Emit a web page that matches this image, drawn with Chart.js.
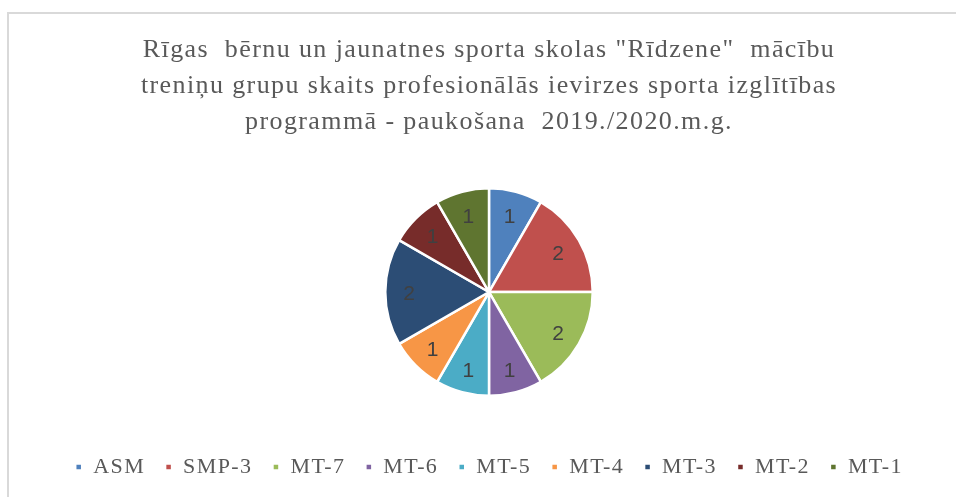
<!DOCTYPE html>
<html>
<head>
<meta charset="utf-8">
<script src="https://cdn.jsdelivr.net/npm/chart.js@4/dist/chart.umd.min.js"></script>
<style>
  html, body { margin: 0; padding: 0; background: #ffffff; }
  body { width: 956px; height: 497px; position: relative; overflow: hidden; }
  #frame { position: absolute; left: 7px; top: 12px; width: 960px; height: 500px;
           border-left: 2px solid #d9d9d9; border-top: 2px solid #d9d9d9; box-sizing: border-box; }
  #wrap { position: absolute; left: 0; top: 0; width: 956px; height: 497px; }
</style>
</head>
<body>
<div id="frame"></div>
<div id="wrap"><canvas id="c" width="956" height="497"></canvas></div>
<script>
const titleLines = [
  'Rīgas  bērnu un jaunatnes sporta skolas "Rīdzene"  mācību',
  'treniņu grupu skaits profesionālās ievirzes sporta izglītības',
  'programmā - paukošana  2019./2020.m.g.'
];
const categories = ['ASM', 'SMP-3', 'MT-7', 'MT-6', 'MT-5', 'MT-4', 'MT-3', 'MT-2', 'MT-1'];
const groupCounts = [1, 2, 2, 1, 1, 1, 2, 1, 1];
const sliceColors = ['#4F81BD', '#C0504D', '#9BBB59', '#8064A2', '#4BACC6', '#F79646', '#2C4D75', '#772C2A', '#5F7530'];

const TEXT_SPACING = '1.4px';

const spacingPlugin = {
  id: 'textSpacing',
  beforeLayout(chart) { chart.ctx.letterSpacing = TEXT_SPACING; },
  beforeDraw(chart) { chart.ctx.letterSpacing = TEXT_SPACING; }
};

const dataLabelPlugin = {
  id: 'sliceLabels',
  afterDatasetsDraw(chart) {
    const ctx = chart.ctx;
    const meta = chart.getDatasetMeta(0);
    const values = chart.data.datasets[0].data;
    ctx.save();
    ctx.letterSpacing = '0px';
    ctx.font = '21px "Liberation Sans", Arial, sans-serif';
    ctx.fillStyle = '#404040';
    ctx.textAlign = 'center';
    ctx.textBaseline = 'middle';
    meta.data.forEach((arc, i) => {
      const p = arc.getProps(['x', 'y', 'startAngle', 'endAngle', 'outerRadius'], true);
      const mid = (p.startAngle + p.endAngle) / 2;
      const r = p.outerRadius * 0.77;
      ctx.fillText(String(values[i]), p.x + Math.cos(mid) * r, p.y + Math.sin(mid) * r + 2);
    });
    ctx.restore();
  }
};

new Chart(document.getElementById('c'), {
  type: 'pie',
  data: {
    labels: categories,
    datasets: [{
      data: groupCounts,
      backgroundColor: sliceColors,
      borderColor: '#ffffff',
      borderWidth: 2.5
    }]
  },
  options: {
    responsive: false,
    animation: false,
    events: [],
    layout: { padding: { top: 14, left: 22, right: 0, bottom: 9 } },
    plugins: {
      title: {
        display: true,
        text: titleLines,
        color: '#595959',
        font: { family: '"Liberation Serif", "Times New Roman", serif', size: 26, weight: 'normal', lineHeight: 1.385 },
        padding: { top: 18, bottom: 47 }
      },
      legend: {
        position: 'bottom',
        title: { display: true, text: '', font: { size: 10, lineHeight: 1 }, padding: { top: 29, bottom: 0 } },
        labels: {
          color: '#595959',
          font: { family: '"Liberation Serif", "Times New Roman", serif', size: 22 },
          boxWidth: 7,
          boxHeight: 7,
          padding: 20
        }
      },
      tooltip: { enabled: false }
    }
  },
  plugins: [spacingPlugin, dataLabelPlugin]
});
</script>
</body>
</html>
